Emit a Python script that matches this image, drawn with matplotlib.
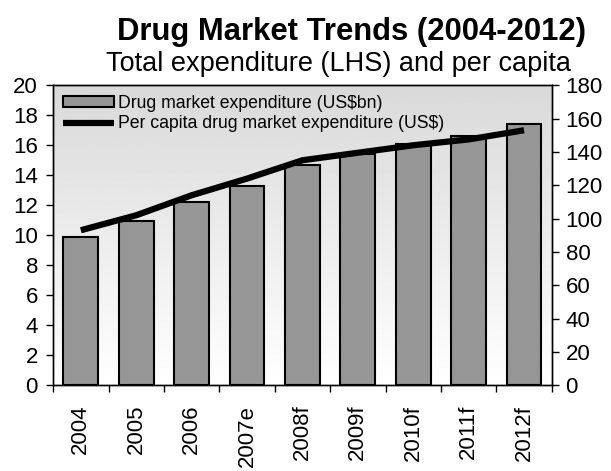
import matplotlib
matplotlib.use("Agg")
import matplotlib.pyplot as plt
import numpy as np

plt.rcParams['font.family'] = ['Liberation Sans', 'DejaVu Sans']

years = ["2004", "2005", "2006", "2007e", "2008f", "2009f", "2010f", "2011f", "2012f"]
spend_bn = [9.9, 10.95, 12.25, 13.3, 14.7, 15.4, 16.1, 16.6, 17.4]
per_capita = [93, 102, 114, 124, 135, 139.5, 144, 147.5, 153]

fig = plt.figure(figsize=(6.11, 4.71), dpi=100)
ax = fig.add_axes([0.087, 0.182, 0.816, 0.637])
ax2 = ax.twinx()

x = np.arange(len(years))

# gradient background: white at the bottom, grey at the top
grad = np.linspace(1.0, 0.85, 256).reshape(-1, 1)
ax.imshow(grad, cmap="gray", vmin=0, vmax=1, aspect="auto", origin="lower",
          extent=[0, 1, 0, 1], transform=ax.transAxes, zorder=0)

bars = ax.bar(x, spend_bn, width=0.63, color="#969696", edgecolor="black",
              linewidth=1.5, zorder=2, label="Drug market expenditure (US$bn)")
line, = ax2.plot(x, per_capita, color="black", linewidth=4.5,
                 solid_capstyle="butt", label="Per capita drug market expenditure (US$)")

ax.set_xlim(-0.5, len(years) - 0.5)
ax.set_ylim(0, 20)
ax.set_yticks(np.arange(0, 21, 2))
ax2.set_ylim(0, 180)
ax2.set_yticks(np.arange(0, 181, 20))

ax.set_xticks(np.arange(-0.5, len(years), 1))
ax.set_xticklabels([])
ax.set_xticks(x, minor=True)
ax.set_xticklabels(years, minor=True, rotation=90, fontsize=16)
ax.tick_params(axis="x", which="minor", length=0, pad=14)
ax.tick_params(axis="x", which="major", length=5, direction="out", width=1)
ax.tick_params(axis="y", labelsize=16, length=5, width=1, pad=6)
ax2.tick_params(axis="y", labelsize=16, length=5, width=1, pad=5)

for a in (ax, ax2):
    for s in a.spines.values():
        s.set_color("black")
        s.set_linewidth(1)

ax.legend([bars, line], [bars.get_label(), line.get_label()],
          loc="upper left", bbox_to_anchor=(0.0, 1.0), frameon=False,
          fontsize=12.7, handlelength=2.9, handleheight=0.6, handletextpad=0.25,
          labelspacing=0.2, borderaxespad=0.25, borderpad=0.3)

fig.text(0.575, 0.915, "Drug Market Trends (2004-2012)", ha="center",
         va="baseline", fontsize=22.3, fontweight="bold")
fig.text(0.554, 0.849, "Total expenditure (LHS) and per capita", ha="center",
         va="baseline", fontsize=19.5)

fig.savefig("out.png", dpi=100)
